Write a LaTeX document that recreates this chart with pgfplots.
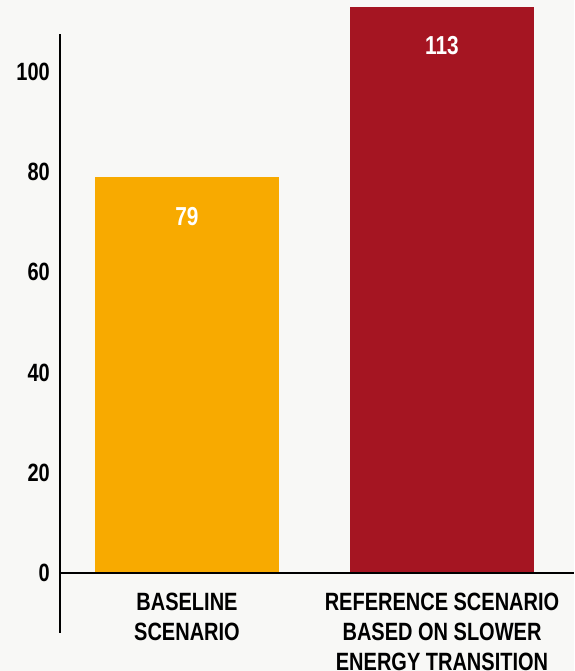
\documentclass[border=0pt]{standalone}
\usepackage{pgfplots}
\pgfplotsset{compat=1.18}
\usepackage{fontspec}
\setmainfont{Liberation Sans}[FakeStretch=0.8]
\definecolor{bg}{HTML}{F8F8F6}
\definecolor{orangebar}{HTML}{F8AA00}
\definecolor{redbar}{HTML}{A51522}
\begin{document}
\begin{tikzpicture}
\fill[bg] (0,0) rectangle (574pt,671pt);
\begin{axis}[
  at={(60pt,38pt)}, anchor=south west,
  scale only axis,
  width=514pt, height=633pt,
  xmin=-0.498, xmax=1.5176,
  ymin=-12, ymax=114.35,
  clip=false,
  axis line style={draw=none},
  tick style={draw=none},
  /pgf/number format/assume math mode=true,
  ytick={0,20,40,60,80,100},
  xtick={0,1},
  xticklabels={{BASELINE\\SCENARIO},{REFERENCE SCENARIO\\BASED ON SLOWER\\ENERGY TRANSITION}},
  font=\fontsize{25}{30}\selectfont\bfseries,
  yticklabel style={anchor=east, inner sep=0pt, xshift=-10pt, font=\fontsize{25}{30}\selectfont\bfseries},
  xticklabel style={anchor=north, inner sep=0pt, yshift=44pt, align=center, font=\fontsize{25}{30}\selectfont\bfseries},
  ybar, bar width=184pt, bar shift=0pt,
  nodes near coords,
  nodes near coords style={anchor=center, yshift=-39pt, text=white, font=\fontsize{26}{30}\selectfont\bfseries},
]
\addplot[fill=orangebar, draw=none] coordinates {(0,79)};
\addplot[fill=redbar, draw=none] coordinates {(1,113)};
\draw[line width=2.3pt, black] (axis cs:-0.498,-12) -- (axis cs:-0.498,107.6);
\draw[line width=2.3pt, black] (axis cs:-0.498,0) -- (axis cs:1.5176,0);
\end{axis}
\pgfresetboundingbox
\useasboundingbox (0,0) rectangle (574pt,671pt);
\end{tikzpicture}
\end{document}
